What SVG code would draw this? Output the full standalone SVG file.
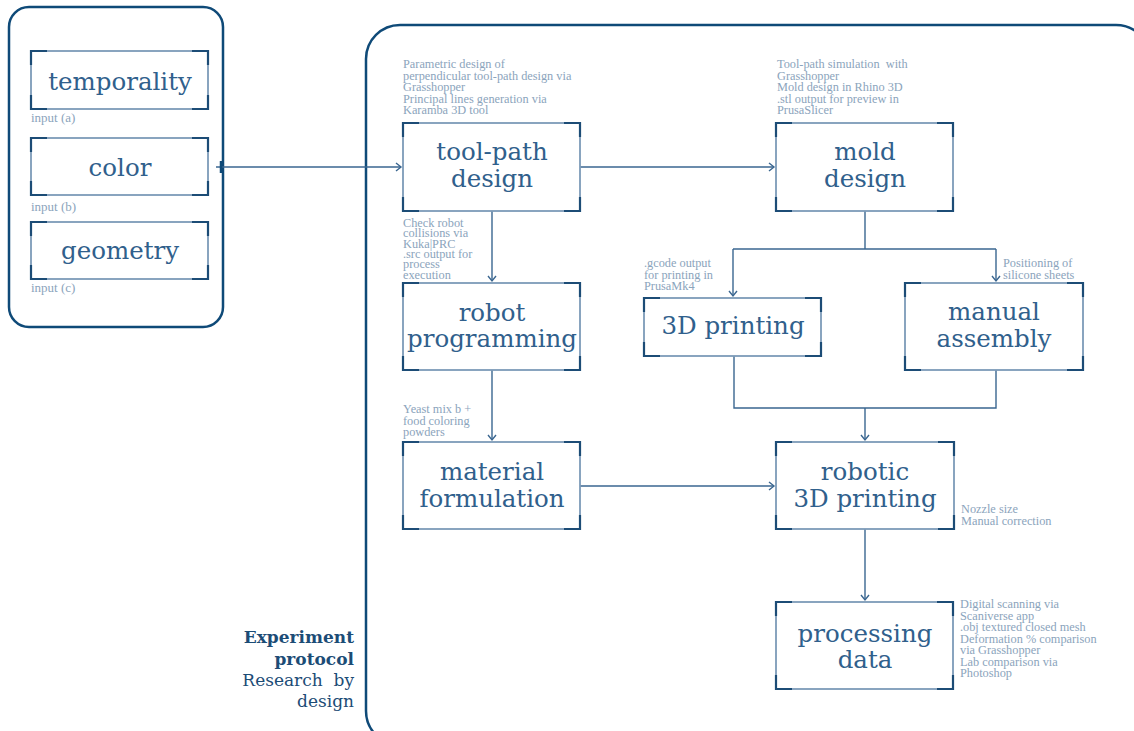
<svg xmlns="http://www.w3.org/2000/svg" width="1134" height="731" viewBox="0 0 1134 731">
<style>
.bg{fill:#ffffff}
.container{fill:none;stroke:#0f4a78;stroke-width:2.5}
.frame{fill:#ffffff;stroke:#7d9bb8;stroke-width:1.8}
.corner{fill:none;stroke:#1c4c76;stroke-width:2.2}
.title{font-family:"DejaVu Serif","Liberation Serif",serif;font-size:24.5px;fill:#30608c;text-anchor:middle}
.note{font-family:"Liberation Serif","DejaVu Serif",serif;font-size:12.3px;fill:#8ba4bc}
.lbl{font-family:"Liberation Serif","DejaVu Serif",serif;font-size:13px;fill:#8ba4bc}
.conn{fill:none;stroke:#3a6690;stroke-width:1.4}
.side{font-family:"DejaVu Serif","Liberation Serif",serif;font-size:17px;fill:#1c4c76;text-anchor:end}
</style>
<defs>
<marker id="arr" markerWidth="10" markerHeight="10" refX="6" refY="5" orient="auto" markerUnits="userSpaceOnUse">
<path d="M1,1 L6,5 L1,9" fill="none" stroke="#3a6690" stroke-width="1.4"/>
</marker>
</defs>
<rect class="bg" x="0" y="0" width="1134" height="731"/>

<g id="input-container">
<rect class="container" x="9" y="7" width="214" height="320" rx="20"/>
</g>
<g id="protocol-container">
<rect class="container" x="366" y="25" width="784" height="720" rx="34"/>
</g>

<g id="temporality">
<rect class="frame" x="31" y="51" width="177" height="58"/>
<path class="corner" d="M31,65 V51 H47 M192,51 H208 V65 M208,95 V109 H192 M47,109 H31 V95"/>
<text class="title" x="120" y="90">temporality</text>
<text class="lbl" x="31" y="122">input (a)</text>
</g>
<g id="color">
<rect class="frame" x="31" y="138" width="177" height="57"/>
<path class="corner" d="M31,152 V138 H47 M192,138 H208 V152 M208,181 V195 H192 M47,195 H31 V181"/>
<text class="title" x="120" y="176">color</text>
<text class="lbl" x="31" y="211">input (b)</text>
</g>
<g id="geometry">
<rect class="frame" x="31" y="222" width="177" height="57"/>
<path class="corner" d="M31,236 V222 H47 M192,222 H208 V236 M208,265 V279 H192 M47,279 H31 V265"/>
<text class="title" x="120" y="259">geometry</text>
<text class="lbl" x="31" y="292">input (c)</text>
</g>

<g id="connectors">
<path class="conn" d="M216,167 H401" marker-end="url(#arr)"/>
<path d="M221,161 V173" stroke="#0f4a78" stroke-width="2.5" fill="none"/>
<path class="conn" d="M580,167 H774" marker-end="url(#arr)"/>
<path class="conn" d="M492,211 V281" marker-end="url(#arr)"/>
<path class="conn" d="M865,211 V249"/>
<path class="conn" d="M733,249 H996"/>
<path class="conn" d="M733,249 V296" marker-end="url(#arr)"/>
<path class="conn" d="M996,249 V281" marker-end="url(#arr)"/>
<path class="conn" d="M492,370 V440" marker-end="url(#arr)"/>
<path class="conn" d="M734,356 V408 H996 V370"/>
<path class="conn" d="M865,408 V440" marker-end="url(#arr)"/>
<path class="conn" d="M580,486 H774" marker-end="url(#arr)"/>
<path class="conn" d="M865,529 V600" marker-end="url(#arr)"/>
</g>

<g id="tool-path-design">
<rect class="frame" x="403" y="123" width="177" height="88"/>
<path class="corner" d="M403,137 V123 H419 M564,123 H580 V137 M580,197 V211 H564 M419,211 H403 V197"/>
<text class="title" x="492" y="160">tool-path</text>
<text class="title" x="492" y="187">design</text>
<text class="note" x="403"><tspan x="403" y="68">Parametric design of</tspan><tspan x="403" y="79.5">perpendicular tool-path design via</tspan><tspan x="403" y="91">Grasshopper</tspan><tspan x="403" y="102.5">Principal lines generation via</tspan><tspan x="403" y="114">Karamba 3D tool</tspan></text>
</g>

<g id="mold-design">
<rect class="frame" x="776" y="123" width="177" height="88"/>
<path class="corner" d="M776,137 V123 H792 M937,123 H953 V137 M953,197 V211 H937 M792,211 H776 V197"/>
<text class="title" x="865" y="160">mold</text>
<text class="title" x="865" y="187">design</text>
<text class="note" x="777" xml:space="preserve"><tspan x="777" y="68">Tool-path simulation  with</tspan><tspan x="777" y="79.5">Grasshopper</tspan><tspan x="777" y="91">Mold design in Rhino 3D</tspan><tspan x="777" y="102.5">.stl output for preview in</tspan><tspan x="777" y="114">PrusaSlicer</tspan></text>
</g>

<g id="robot-programming">
<rect class="frame" x="403" y="283" width="177" height="87"/>
<path class="corner" d="M403,297 V283 H419 M564,283 H580 V297 M580,356 V370 H564 M419,370 H403 V356"/>
<text class="title" x="492" y="321">robot</text>
<text class="title" x="492" y="347">programming</text>
<text class="note" x="403"><tspan x="403" y="227">Check robot</tspan><tspan x="403" y="237.3">collisions via</tspan><tspan x="403" y="247.6">Kuka|PRC</tspan><tspan x="403" y="257.9">.src output for</tspan><tspan x="403" y="268.2">process</tspan><tspan x="403" y="278.5">execution</tspan></text>
</g>

<g id="3d-printing">
<rect class="frame" x="644" y="298" width="177" height="58"/>
<path class="corner" d="M644,312 V298 H660 M805,298 H821 V312 M821,342 V356 H805 M660,356 H644 V342"/>
<text class="title" x="733" y="334">3D printing</text>
<text class="note" x="644"><tspan x="644" y="267">.gcode output</tspan><tspan x="644" y="278.5">for printing in</tspan><tspan x="644" y="290">PrusaMk4</tspan></text>
</g>

<g id="manual-assembly">
<rect class="frame" x="905" y="283" width="178" height="87"/>
<path class="corner" d="M905,297 V283 H921 M1067,283 H1083 V297 M1083,356 V370 H1067 M921,370 H905 V356"/>
<text class="title" x="994" y="320">manual</text>
<text class="title" x="994" y="347">assembly</text>
<text class="note" x="1003"><tspan x="1003" y="267">Positioning of</tspan><tspan x="1003" y="278.5">silicone sheets</tspan></text>
</g>

<g id="material-formulation">
<rect class="frame" x="403" y="442" width="177" height="87"/>
<path class="corner" d="M403,456 V442 H419 M564,442 H580 V456 M580,515 V529 H564 M419,529 H403 V515"/>
<text class="title" x="492" y="480">material</text>
<text class="title" x="492" y="507">formulation</text>
<text class="note" x="403"><tspan x="403" y="413">Yeast mix b +</tspan><tspan x="403" y="424.5">food coloring</tspan><tspan x="403" y="436">powders</tspan></text>
</g>

<g id="robotic-3d-printing">
<rect class="frame" x="776" y="442" width="178" height="87"/>
<path class="corner" d="M776,456 V442 H792 M938,442 H954 V456 M954,515 V529 H938 M792,529 H776 V515"/>
<text class="title" x="865" y="480">robotic</text>
<text class="title" x="865" y="507">3D printing</text>
<text class="note" x="961"><tspan x="961" y="513">Nozzle size</tspan><tspan x="961" y="524.5">Manual correction</tspan></text>
</g>

<g id="processing-data">
<rect class="frame" x="776" y="602" width="177" height="87"/>
<path class="corner" d="M776,616 V602 H792 M937,602 H953 V616 M953,675 V689 H937 M792,689 H776 V675"/>
<text class="title" x="865" y="642">processing</text>
<text class="title" x="865" y="668">data</text>
<text class="note" x="960"><tspan x="960" y="608">Digital scanning via</tspan><tspan x="960" y="619.5">Scaniverse app</tspan><tspan x="960" y="631">.obj textured closed mesh</tspan><tspan x="960" y="642.5">Deformation % comparison</tspan><tspan x="960" y="654">via Grasshopper</tspan><tspan x="960" y="665.5">Lab comparison via</tspan><tspan x="960" y="677">Photoshop</tspan></text>
</g>

<g id="protocol-label">
<text class="side" x="354" y="643" font-weight="bold">Experiment</text>
<text class="side" x="354" y="665" font-weight="bold">protocol</text>
<text class="side" x="354" y="686" xml:space="preserve">Research  by</text>
<text class="side" x="354" y="707">design</text>
</g>
</svg>
